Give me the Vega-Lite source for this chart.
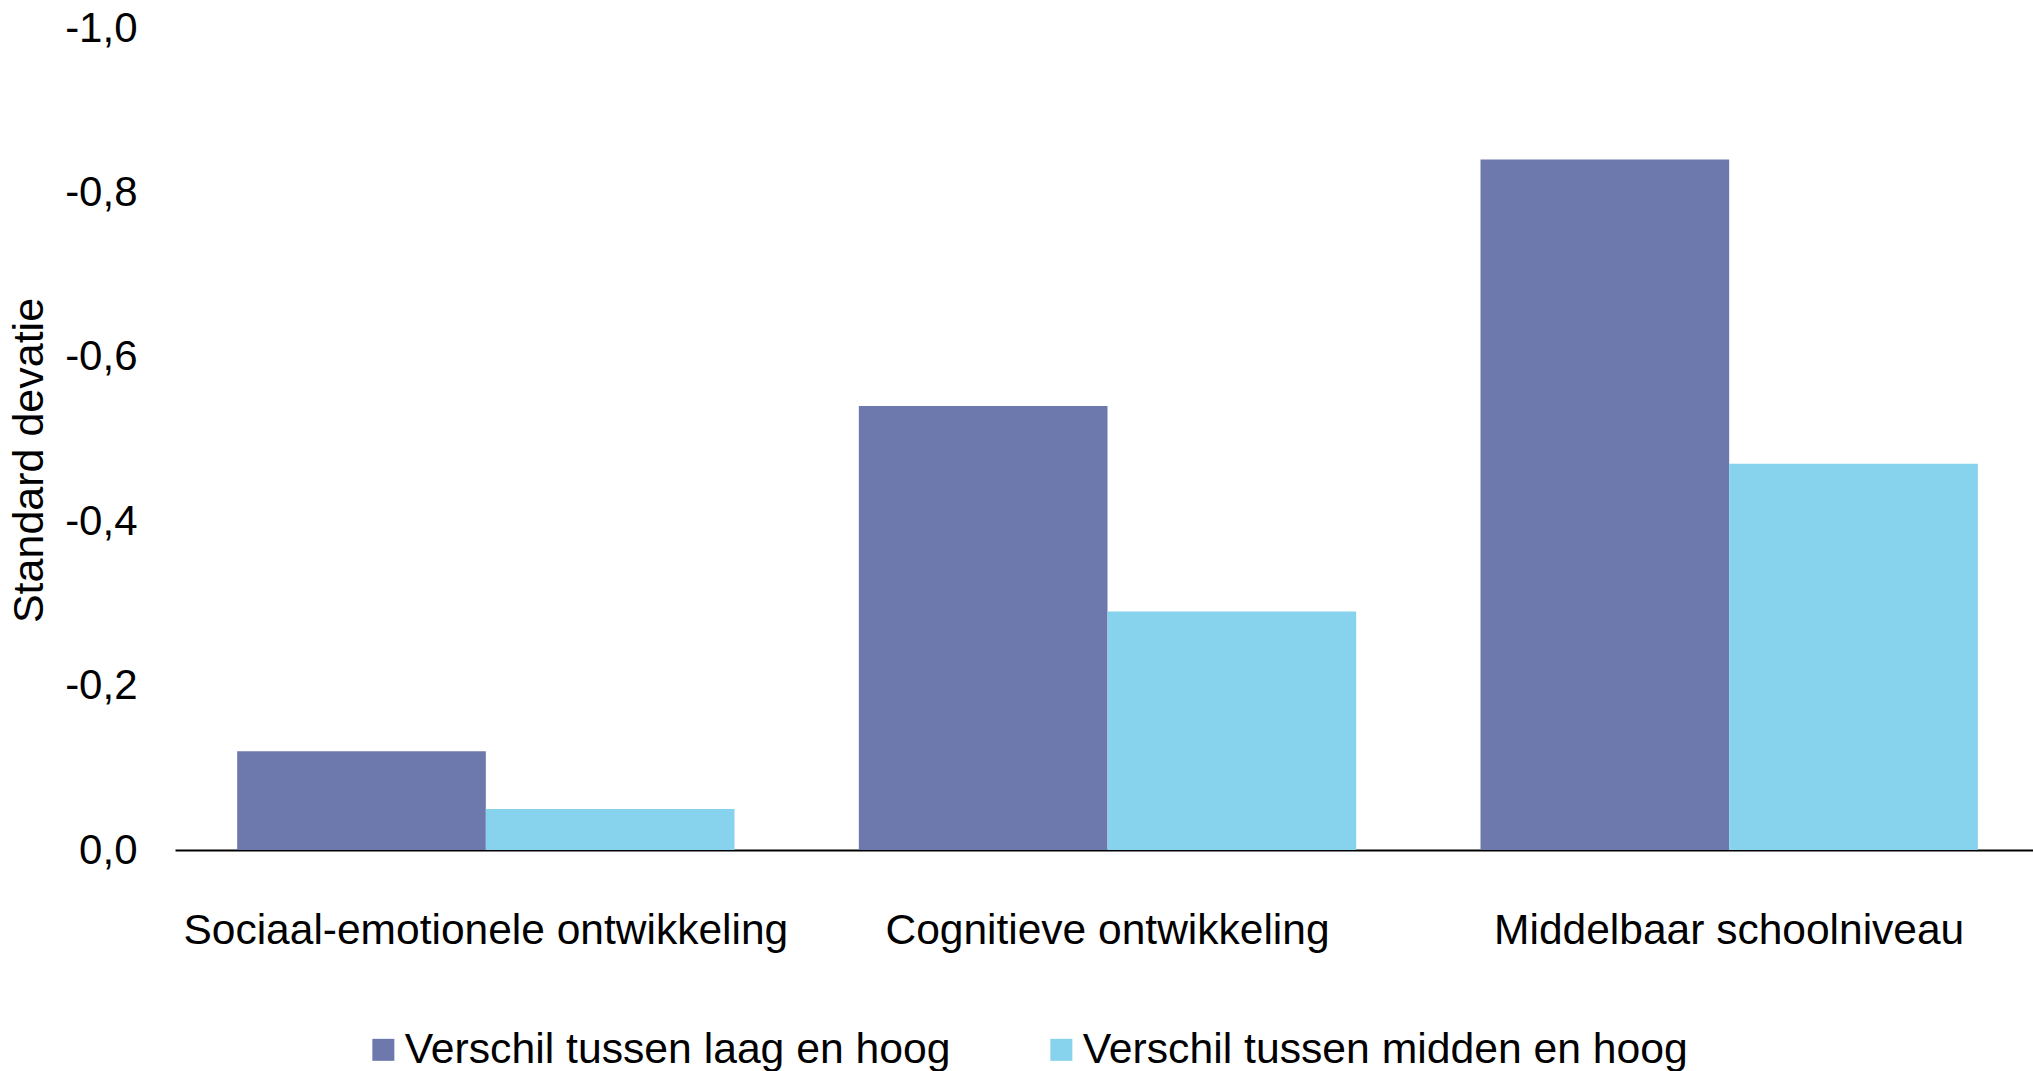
{
  "$schema": "https://vega.github.io/schema/vega-lite/v6.json",
  "autosize": {"type": "none"},
  "width": 1865,
  "height": 822,
  "padding": {"left": 175, "top": 28, "right": 0, "bottom": 221},
  "background": "white",
  "data": {
    "values": [
      {"categorie": "Sociaal-emotionele ontwikkeling", "reeks": "Verschil tussen laag en hoog", "waarde": -0.12},
      {"categorie": "Sociaal-emotionele ontwikkeling", "reeks": "Verschil tussen midden en hoog", "waarde": -0.05},
      {"categorie": "Cognitieve ontwikkeling", "reeks": "Verschil tussen laag en hoog", "waarde": -0.54},
      {"categorie": "Cognitieve ontwikkeling", "reeks": "Verschil tussen midden en hoog", "waarde": -0.29},
      {"categorie": "Middelbaar schoolniveau", "reeks": "Verschil tussen laag en hoog", "waarde": -0.84},
      {"categorie": "Middelbaar schoolniveau", "reeks": "Verschil tussen midden en hoog", "waarde": -0.47}
    ]
  },
  "mark": {"type": "bar"},
  "encoding": {
    "x": {
      "field": "categorie",
      "type": "nominal",
      "sort": ["Sociaal-emotionele ontwikkeling", "Cognitieve ontwikkeling", "Middelbaar schoolniveau"],
      "scale": {"paddingInner": 0.2, "paddingOuter": 0.1},
      "axis": {
        "title": null,
        "labelAngle": 0,
        "labelFontSize": 42.5,
        "labelFont": "Liberation Sans",
        "labelColor": "black",
        "labelPadding": 59,
        "labelBaseline": "top",
        "labelLimit": 1000,
        "ticks": false,
        "domain": true,
        "domainColor": "black",
        "domainWidth": 2,
        "grid": false
      }
    },
    "xOffset": {
      "field": "reeks",
      "type": "nominal",
      "sort": ["Verschil tussen laag en hoog", "Verschil tussen midden en hoog"],
      "scale": {"paddingInner": 0, "paddingOuter": 0}
    },
    "y": {
      "field": "waarde",
      "type": "quantitative",
      "scale": {"domain": [-1, 0], "reverse": true, "nice": false},
      "axis": {
        "title": "Standard devatie",
        "titleFontSize": 43,
        "titleFont": "Liberation Sans",
        "titleFontWeight": "normal",
        "titleColor": "black",
        "titleAngle": -90,
        "titleX": -146,
        "titleY": 432,
        "titleAlign": "center",
        "titleBaseline": "middle",
        "values": [-1, -0.8, -0.6, -0.4, -0.2, 0],
        "labelExpr": "replace(replace(format(datum.value, '.1f'), '.', ','), '\u2212', '-')",
        "labelFontSize": 42,
        "labelFont": "Liberation Sans",
        "labelColor": "black",
        "labelPadding": 38,
        "ticks": false,
        "domain": false,
        "grid": false
      }
    },
    "color": {
      "field": "reeks",
      "type": "nominal",
      "sort": ["Verschil tussen laag en hoog", "Verschil tussen midden en hoog"],
      "scale": {"range": ["#6D79AD", "#87D2EC"]},
      "legend": {
        "title": null,
        "orient": "none",
        "direction": "horizontal",
        "legendX": 187,
        "legendY": 1000,
        "padding": 0,
        "symbolType": "square",
        "symbolSize": 484,
        "symbolStrokeWidth": 0,
        "symbolOpacity": 1,
        "labelFontSize": 42.7,
        "labelFont": "Liberation Sans",
        "labelColor": "black",
        "labelOffset": 0,
        "labelLimit": 1000,
        "columnPadding": 89
      }
    }
  },
  "config": {
    "view": {"stroke": null},
    "font": "Liberation Sans"
  }
}
